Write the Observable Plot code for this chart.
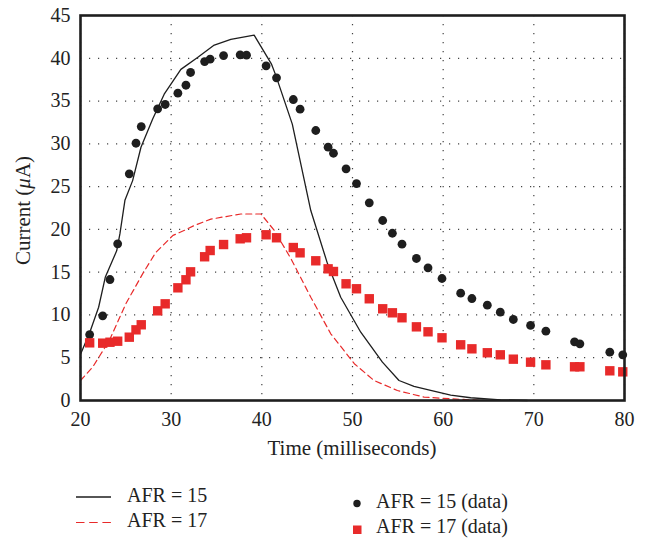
<!DOCTYPE html>
<html><head><meta charset="utf-8">
<script src="https://cdn.jsdelivr.net/npm/d3@7"></script>
<script src="https://cdn.jsdelivr.net/npm/@observablehq/plot@0.6"></script>
<style>
body{margin:0;background:#fff;font-family:'Liberation Serif','Times New Roman',serif;}
#wrap{position:relative;width:651px;height:539px;overflow:hidden;}
#wrap svg, #wrap svg text{font-family:'Liberation Serif','Times New Roman',serif;}
#legend{position:absolute;left:0;top:470px;}
</style></head><body><div id="wrap"></div>
<script>
const xTicks = [20, 30, 40, 50, 60, 70, 80];
const yTicks = [0, 5, 10, 15, 20, 25, 30, 35, 40, 45];
const xLabel = "Time (milliseconds)";
const seriesNames = ["AFR = 15", "AFR = 17", "AFR = 15 (data)", "AFR = 17 (data)"];

// Model curves
const afr15LineX = [20, 20.97, 22.0, 22.73, 23.99, 24.35, 24.9, 25.75, 26.67, 27.96, 29.23, 31.07, 32.91, 34.68, 36.58, 39.15, 41.05, 41.54, 43.36, 45.4, 47.24, 48.7, 50.91, 53.3, 55.13, 56.78, 58.62, 60.83, 63.03, 66.34, 69.28];
const afr15LineY = [5.4, 7.8, 10.9, 14.4, 17.5, 19.5, 23.4, 25.7, 29.6, 32.9, 35.8, 38.7, 40.1, 41.5, 42.2, 42.7, 39.35, 38.0, 32.3, 22.2, 16.0, 12.07, 7.98, 4.48, 2.34, 1.65, 1.17, 0.62, 0.32, 0.08, 0];
const afr17LineX = [20, 21.34, 23.17, 25.0, 26.85, 28.3, 30.2, 31.6, 32.54, 34.38, 37.69, 39.9, 41.36, 43.2, 45.4, 47.6, 50.2, 52.37, 54.95, 57.9, 60.8, 64.5];
const afr17LineY = [2.34, 3.9, 7.0, 11.3, 14.8, 17.3, 19.3, 19.95, 20.45, 21.2, 21.8, 21.8, 19.9, 16.6, 12.07, 7.8, 4.3, 2.34, 1.17, 0.39, 0.2, 0];

// Measured data
const dataX = [21.01, 22.45, 23.25, 24.10, 25.38, 26.12, 26.70, 28.51, 29.34, 30.74, 31.63, 32.14, 33.69, 34.30, 35.78, 37.61, 38.31, 40.47, 41.62, 43.47, 44.22, 45.95, 47.31, 47.90, 49.29, 50.44, 51.85, 53.33, 54.40, 55.46, 57.05, 58.33, 59.87, 61.93, 63.17, 64.87, 66.30, 67.74, 69.64, 71.33, 74.49, 75.08, 78.38, 79.81];
const afr15Data = [7.71, 9.90, 14.14, 18.31, 26.50, 30.07, 32.02, 34.09, 34.60, 35.92, 36.85, 38.34, 39.62, 39.89, 40.32, 40.40, 40.36, 39.12, 37.72, 35.18, 34.05, 31.56, 29.61, 28.90, 27.08, 25.36, 23.11, 21.04, 19.55, 18.27, 16.60, 15.51, 14.26, 12.54, 11.92, 11.14, 10.32, 9.47, 8.77, 8.10, 6.86, 6.63, 5.65, 5.34];
const afr17Data = [6.74, 6.70, 6.81, 6.93, 7.40, 8.26, 8.85, 10.48, 11.30, 13.17, 14.11, 15.04, 16.80, 17.53, 18.23, 18.90, 19.02, 19.37, 19.02, 17.88, 17.26, 16.33, 15.39, 15.08, 13.64, 13.06, 11.89, 10.72, 10.25, 9.67, 8.61, 8.03, 7.33, 6.51, 6.04, 5.58, 5.34, 4.83, 4.48, 4.17, 3.94, 3.94, 3.47, 3.35];

const RED = "#e82a2a";
const DARK = "#1e1e1e";
const FONT = "'Liberation Serif', 'Times New Roman', serif";

const l15 = afr15LineX.map((x, i) => ({x, y: afr15LineY[i]}));
const l17 = afr17LineX.map((x, i) => ({x, y: afr17LineY[i]}));
const d15 = dataX.map((x, i) => ({x, y: afr15Data[i]}));
const d17 = dataX.map((x, i) => ({x, y: afr17Data[i]}));

const plot = Plot.plot({
  width: 651, height: 470,
  marginLeft: 80, marginRight: 27, marginTop: 15, marginBottom: 70,
  style: {fontFamily: FONT, fontSize: "20px", color: "#222", background: "#fff", overflow: "visible"},
  x: {domain: [20, 80], ticks: xTicks, tickSize: 0, tickPadding: 11, label: null},
  y: {domain: [0, 45], ticks: yTicks, tickSize: 0, tickPadding: 10, label: null},
  marks: [
    Plot.gridX(xTicks, {stroke: "#444", strokeOpacity: 1, strokeWidth: 1.2, strokeDasharray: "1.2,7.8"}),
    Plot.gridY(yTicks, {stroke: "#444", strokeOpacity: 1, strokeWidth: 1.2, strokeDasharray: "1.2,7.8"}),
    Plot.line(l17, {x: "x", y: "y", stroke: RED, strokeWidth: 1.2, strokeDasharray: "6,4"}),
    Plot.line(l15, {x: "x", y: "y", stroke: DARK, strokeWidth: 1.3}),
    Plot.dot(d15, {x: "x", y: "y", r: 4.4, fill: DARK, stroke: "none"}),
    Plot.dot(d17, {x: "x", y: "y", r: 5.3, symbol: "square", fill: RED, stroke: "none"}),
    Plot.frame({stroke: DARK, strokeWidth: 2.6})
  ]
});

const wrap = document.getElementById("wrap");
wrap.appendChild(plot);

const svg = d3.select(plot);
const xr = plot.scale("x").range;
const yr = plot.scale("y").range;

// x-axis label
svg.append("text")
  .attr("x", (xr[0] + xr[1]) / 2).attr("y", 450)
  .attr("text-anchor", "middle").attr("dominant-baseline", "middle")
  .attr("fill", "#222").style("font-size", "21px")
  .text(xLabel);

// y-axis label with italic mu
const yl = svg.append("text")
  .attr("transform", `translate(25,${(yr[0] + yr[1]) / 2 + 3}) rotate(-90)`)
  .attr("text-anchor", "middle")
  .attr("dominant-baseline", "middle")
  .attr("fill", "#222")
  .style("font-size", "21px");
yl.append("tspan").text("Current (");
yl.append("tspan").style("font-style", "italic").text("\u03bc");
yl.append("tspan").text("A)");

// Legend below
const leg = d3.select(wrap).append("svg").attr("id", "legend")
  .attr("width", 651).attr("height", 69)
  .style("font-size", "20px");
leg.append("line").attr("x1", 76).attr("x2", 111).attr("y1", 27).attr("y2", 27).attr("stroke", DARK).attr("stroke-width", 1.3);
leg.append("text").attr("x", 127).attr("y", 27).attr("dominant-baseline", "middle").attr("fill", "#222").text(seriesNames[0]);
leg.append("line").attr("x1", 76).attr("x2", 111).attr("y1", 52.5).attr("y2", 52.5).attr("stroke", RED).attr("stroke-width", 1.2).attr("stroke-dasharray", "8.5,4.7");
leg.append("text").attr("x", 127).attr("y", 52.5).attr("dominant-baseline", "middle").attr("fill", "#222").text(seriesNames[1]);
leg.append("circle").attr("cx", 357).attr("cy", 33.5).attr("r", 3.7).attr("fill", DARK);
leg.append("text").attr("x", 376).attr("y", 33.5).attr("dominant-baseline", "middle").attr("fill", "#222").text(seriesNames[2]);
leg.append("rect").attr("x", 353).attr("y", 55.5).attr("width", 8.5).attr("height", 8.5).attr("fill", RED);
leg.append("text").attr("x", 376).attr("y", 58.5).attr("dominant-baseline", "middle").attr("fill", "#222").text(seriesNames[3]);
</script></body></html>
